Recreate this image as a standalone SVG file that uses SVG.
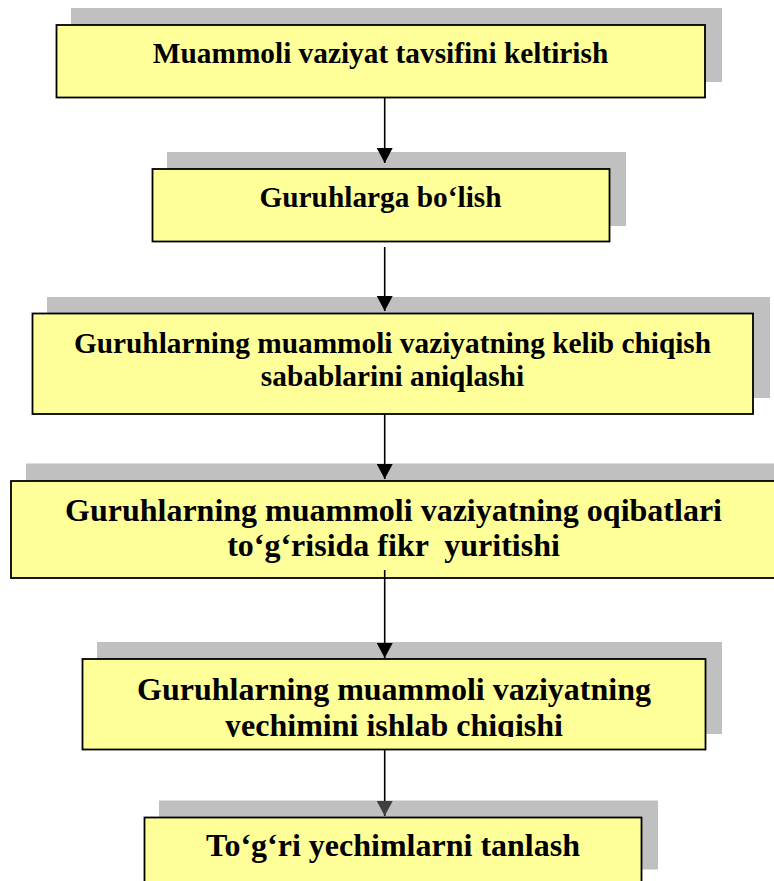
<svg xmlns="http://www.w3.org/2000/svg" width="774" height="881" viewBox="0 0 774 881">
  <style>
    .shadow { fill: #C0C0C0; stroke: none; }
    .box { fill: #FFFF99; stroke: #000000; stroke-width: 1.8; }
    .t { font-weight: bold; fill: #000000; text-anchor: middle; }
    .conn { stroke: #000000; stroke-width: 1.6; fill: none; }
  </style>
  <defs>
    <marker id="arrow" markerUnits="userSpaceOnUse" markerWidth="16" markerHeight="16" refX="15" refY="8" orient="auto">
      <path d="M0,0 L15,8 L0,16 Z" fill="#000000"/>
    </marker>
    <marker id="arrowGray" markerUnits="userSpaceOnUse" markerWidth="16" markerHeight="16" refX="15" refY="8" orient="auto">
      <path d="M0,0 L15,8 L0,16 Z" fill="#404040"/>
    </marker>
    <clipPath id="clip5">
      <rect x="82" y="659" width="624" height="78"/>
    </clipPath>
  </defs>

  <g id="node1">
    <rect class="shadow" x="71" y="8" width="651" height="74"/>
    <rect class="box" x="56.5" y="25" width="648.5" height="72.5"/>
    <text class="t" font-family="Times New Roman, Liberation Serif, DejaVu Serif, serif" font-size="29.33" x="380.5" y="63">Muammoli vaziyat tavsifini keltirish</text>
  </g>

  <g id="node2">
    <rect class="shadow" x="167" y="152" width="459" height="74"/>
    <rect class="box" x="152.5" y="169" width="457" height="72.5"/>
    <text class="t" font-family="Times New Roman, Liberation Serif, DejaVu Serif, serif" font-size="29.33" x="380.5" y="207">Guruhlarga bo‘lish</text>
  </g>

  <g id="node3">
    <rect class="shadow" x="47" y="297" width="723" height="101"/>
    <rect class="box" x="32.5" y="313.5" width="720.5" height="100.5"/>
    <text class="t" font-family="Times New Roman, Liberation Serif, DejaVu Serif, serif" font-size="29.33" x="392.5" y="353">Guruhlarning muammoli vaziyatning kelib chiqish</text>
    <text class="t" font-family="Times New Roman, Liberation Serif, DejaVu Serif, serif" font-size="29.33" x="392.5" y="386">sabablarini aniqlashi</text>
  </g>

  <g id="node4">
    <rect class="shadow" x="26" y="463.5" width="766" height="98"/>
    <rect class="box" x="11" y="481" width="765" height="97"/>
    <text class="t" font-family="Times New Roman, Liberation Serif, DejaVu Serif, serif" font-size="32" x="393.5" y="521">Guruhlarning muammoli vaziyatning oqibatlari</text>
    <text class="t" font-family="Times New Roman, Liberation Serif, DejaVu Serif, serif" font-size="32" x="393.5" y="556" xml:space="preserve">to‘g‘risida fikr  yuritishi</text>
  </g>

  <g id="node5">
    <rect class="shadow" x="97" y="642" width="625" height="92"/>
    <rect class="box" x="82.5" y="659" width="623" height="90.5"/>
    <g clip-path="url(#clip5)">
      <text class="t" font-family="Times New Roman, Liberation Serif, DejaVu Serif, serif" font-size="32" x="394" y="700">Guruhlarning muammoli vaziyatning</text>
      <text class="t" font-family="Times New Roman, Liberation Serif, DejaVu Serif, serif" font-size="32" x="394" y="736">yechimini ishlab chiqishi</text>
    </g>
  </g>

  <g id="node6">
    <rect class="shadow" x="159" y="800.5" width="499" height="69"/>
    <rect class="box" x="144.5" y="817.5" width="497" height="69"/>
    <text class="t" font-family="Times New Roman, Liberation Serif, DejaVu Serif, serif" font-size="32" x="393" y="856">To‘g‘ri yechimlarni tanlash</text>
  </g>

  <g id="connectors">
    <line class="conn" x1="384.7" y1="98" x2="384.7" y2="163" marker-end="url(#arrow)"/>
    <line class="conn" x1="384.7" y1="247" x2="384.7" y2="311" marker-end="url(#arrow)"/>
    <line class="conn" x1="384.7" y1="414" x2="384.7" y2="479" marker-end="url(#arrow)"/>
    <line class="conn" x1="384.7" y1="570" x2="384.7" y2="658" marker-end="url(#arrow)"/>
    <line class="conn" x1="384.7" y1="750" x2="384.7" y2="816" marker-end="url(#arrowGray)"/>
  </g>
</svg>
